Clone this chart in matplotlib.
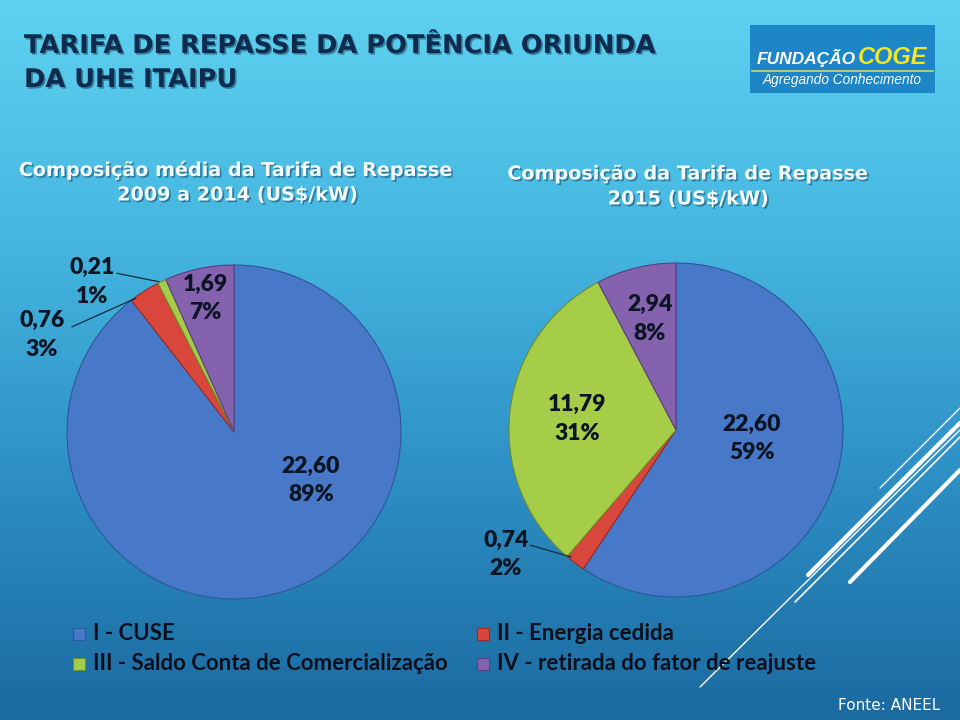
import numpy as np
import matplotlib
matplotlib.use("Agg")
import matplotlib.pyplot as plt
import matplotlib.patheffects as pe
from matplotlib.colors import LinearSegmentedColormap
from matplotlib.patches import Rectangle

# dados
categorias = ["I - CUSE", "II - Energia cedida",
              "III - Saldo Conta de Comercialização",
              "IV - retirada do fator de reajuste"]
media_2009_2014 = [22.60, 0.76, 0.21, 1.69]
tarifa_2015 = [22.60, 0.74, 11.79, 2.94]
cores = ["#4879c9", "#d9463b", "#a6cd48", "#8562ae"]
bordas = ["#2d5796", "#9b2a22", "#6f8f2a", "#5a3f80"]

W, H = 960, 720
fig = plt.figure(figsize=(W / 100, H / 100), dpi=100)

# fundo em degradê
bg = fig.add_axes([0, 0, 1, 1])
grad = LinearSegmentedColormap.from_list("bg", ["#5fd2f0", "#45b6e0", "#2d8fc4", "#1b6aa0"])
bg.imshow(np.linspace(0, 1, 256).reshape(-1, 1), cmap=grad, aspect="auto",
          extent=[0, W, H, 0])
bg.set_xlim(0, W)
bg.set_ylim(H, 0)
bg.axis("off")

sombra = [pe.SimplePatchShadow(offset=(1.2, -1.2), shadow_rgbFace="#0a2a45", alpha=0.45), pe.Normal()]

# titulo
bg.text(24, 46, "TARIFA DE REPASSE DA POTÊNCIA ORIUNDA", fontsize=18.5, fontweight="bold",
        color="#0e2a4c", va="center", ha="left", path_effects=sombra)
bg.text(24, 80, "DA UHE ITAIPU", fontsize=18.5, fontweight="bold",
        color="#0e2a4c", va="center", ha="left", path_effects=sombra)

# logo
bg.add_patch(Rectangle((750, 25), 185, 68, facecolor="#1c86c6", edgecolor="none"))
bg.plot([752, 933], [70.5, 70.5], color="#c9d86a", lw=1.2)
bg.text(757, 58, "FUNDAÇÃO", fontsize=12.5, fontweight="bold", fontstyle="italic",
        color="white", va="center", ha="left", family="Liberation Sans")
bg.text(858, 57, "COGE", fontsize=17, fontweight="bold", fontstyle="italic",
        color="#f2e629", va="center", ha="left", family="Liberation Sans")
bg.text(842, 80, "Agregando Conhecimento", fontsize=9.8, fontstyle="italic",
        color="white", va="center", ha="center", family="Liberation Sans")

# subtitulos
for x, y, txt in [(236, 170, "Composição média da Tarifa de Repasse"),
                  (237, 195, "2009 a 2014 (US$/kW)"),
                  (688, 174, "Composição da Tarifa de Repasse"),
                  (688, 199, "2015 (US$/kW)")]:
    bg.text(x, y, txt, fontsize=13.8, fontweight="bold", color="#f4fbff",
            ha="center", va="center", path_effects=sombra)

# linhas decorativas
for (x0, y0, x1, y1, lw) in [(880, 488, 960, 408, 1.0), (808, 575, 960, 423, 3.0),
                             (795, 602, 960, 437, 1.2), (850, 582, 960, 470, 3.0),
                             (700, 687, 960, 430, 1.0)]:
    bg.plot([x0, x1], [y0, y1], color="white", lw=lw, solid_capstyle="round")

fonte_rotulo = "Lato"


def rotulo(v, total):
    return f"{v:.2f}".replace(".", ",") + "\n" + f"{round(100 * v / total)}%"


def pizza(cx, cy, R, valores, pos_rot, guias):
    ax = fig.add_axes([(cx - R) / W, (H - cy - R) / H, 2 * R / W, 2 * R / H])
    wedges, _ = ax.pie(valores, colors=cores, startangle=90, counterclock=False,
                       wedgeprops=dict(linewidth=0.8))
    for w, b in zip(wedges, bordas):
        w.set_edgecolor(b)
    ax.set_xlim(-1, 1)
    ax.set_ylim(-1, 1)
    total = sum(valores)
    for v, (px, py) in zip(valores, pos_rot):
        ax.text(px, py, rotulo(v, total), ha="center", va="center", fontsize=16.5,
                fontweight="heavy", color="#0b1524", family=fonte_rotulo,
                linespacing=1.45, clip_on=False)
    for (xa, ya, xb, yb) in guias:
        ax.plot([xa, xb], [ya, yb], color="#0f2a40", lw=0.9, clip_on=False)
    return ax


pizza(234, 432, 167, media_2009_2014,
      [(0.46, -0.29), (-1.15, 0.58), (-0.85, 0.90), (-0.17, 0.80)],
      [(-0.97, 0.63, -0.59, 0.80), (-0.70, 0.95, -0.45, 0.90)])

pizza(676, 430, 167, tarifa_2015,
      [(0.455, -0.05), (-1.02, -0.745), (-0.59, 0.066), (-0.156, 0.665)],
      [(-0.87, -0.69, -0.63, -0.76)])

# legenda
pos_leg = [(73, 634), (477, 634), (73, 664), (477, 664)]
for (x, y), cat, c, b in zip(pos_leg, categorias, cores, bordas):
    bg.add_patch(Rectangle((x, y - 6), 12, 12, facecolor=c, edgecolor=b, lw=0.8))
    bg.text(x + 20, y, cat, fontsize=16, fontweight="bold", color="#0a0f1c",
            ha="left", va="center", family=fonte_rotulo)

bg.text(940, 706, "Fonte: ANEEL", fontsize=11, color="white", ha="right",
        va="center", family="DejaVu Sans")

fig.savefig("out.png", dpi=100)
